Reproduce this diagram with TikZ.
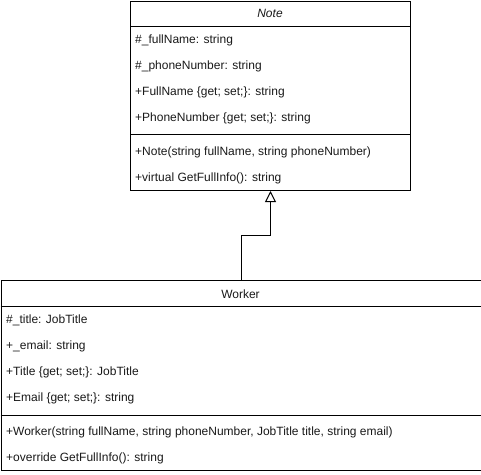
\documentclass[tikz,border=0pt]{standalone}
\usepackage{fontspec}
\setmainfont{Liberation Sans}
\usetikzlibrary{arrows.meta}
\begin{document}
\begin{tikzpicture}[x=1pt,y=-1pt,
  box/.style={draw, line width=1pt, inner sep=0pt, anchor=north west},
  txt/.style={anchor=west, inner sep=0pt, font=\fontsize{12}{14}\selectfont, text=black!90},
  ttl/.style={anchor=center, inner sep=0pt, font=\fontsize{12}{14}\selectfont, text=black!90},
  sep/.style={line width=1pt},
  inh/.style={line width=1pt, -{Triangle[open, length=11pt, width=11pt, fill=white]}}]
\useasboundingbox (0,0) rectangle (481,474);
% Note class
\node[box, minimum width=280pt, minimum height=189pt] (note) at (130,1) {};
\node[ttl, font=\fontsize{12}{14}\selectfont\itshape] (noteT) at (270,13.5) {Note};
\draw[sep] (130,26) -- (410,26);
\node[txt] (n1) at (135,40.5) {\#\_fullName: string};
\node[txt] (n2) at (135,66.5) {\#\_phoneNumber: string};
\node[txt] (n3) at (135,92.5) {+FullName \{get; set;\}: string};
\node[txt] (n4) at (135,118.5) {+PhoneNumber \{get; set;\}: string};
\draw[sep] (130,134) -- (410,134);
\node[txt] (n5) at (135,152.5) {+Note(string fullName, string phoneNumber)};
\node[txt] (n6) at (135,178.5) {+virtual GetFullInfo(): string};
% Worker class
\node[box, minimum width=480pt, minimum height=190pt] (worker) at (0.5,280) {};
\node[ttl] (workerT) at (240.5,294) {Worker};
\draw[sep] (0.5,306) -- (480.5,306);
\node[txt] (w1) at (6,320.5) {\#\_title: JobTitle};
\node[txt] (w2) at (6,346.5) {+\_email: string};
\node[txt] (w3) at (6,372.5) {+Title \{get; set;\}: JobTitle};
\node[txt] (w4) at (6,398.5) {+Email \{get; set;\}: string};
\draw[sep] (0.5,415) -- (480.5,415);
\node[txt] (w5) at (6,432.5) {+Worker(string fullName, string phoneNumber, JobTitle title, string email)};
\node[txt] (w6) at (6,458.5) {+override GetFullInfo(): string};
% inheritance
\draw[inh] (worker.north) -- ++(0,-45) -| (note.south);
\end{tikzpicture}
\end{document}
